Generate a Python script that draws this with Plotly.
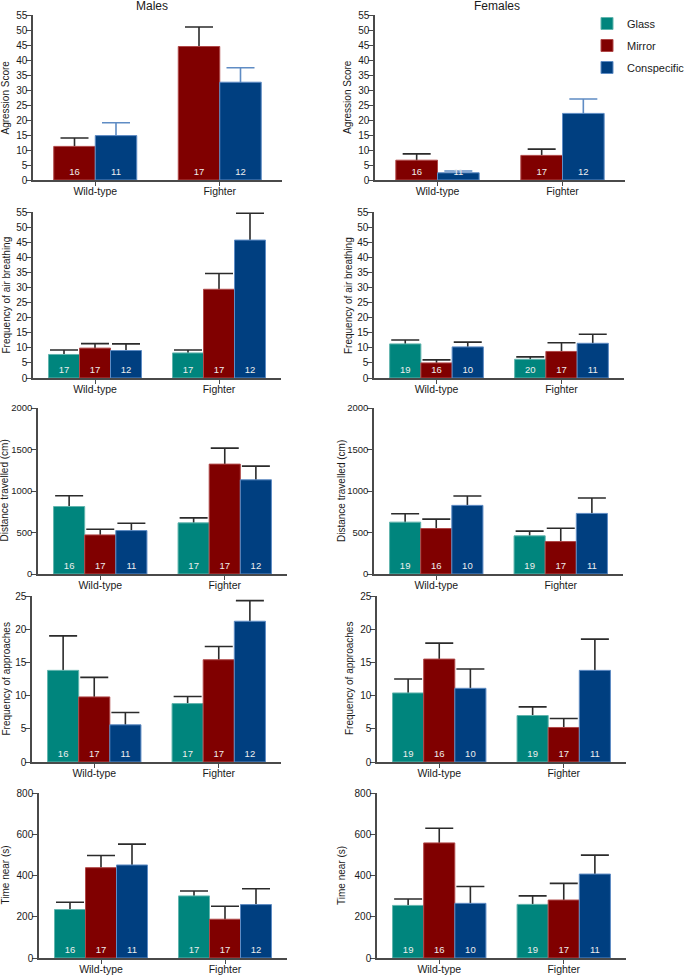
import plotly.graph_objects as go

W, H = 685, 975

groups = ["Wild-type", "Fighter"]
series_names = ["Glass", "Mirror", "Conspecific"]

# ---- Agression score (no Glass condition) ----
aggr_m_mirror, aggr_m_mirror_sem, aggr_m_mirror_n = [11.2, 44.5], [2.8, 6.5], [16, 17]
aggr_m_consp, aggr_m_consp_sem, aggr_m_consp_n = [14.8, 32.6], [4.3, 4.8], [11, 12]
aggr_f_mirror, aggr_f_mirror_sem, aggr_f_mirror_n = [6.6, 8.2], [2.1, 2.1], [16, 17]
aggr_f_consp, aggr_f_consp_sem, aggr_f_consp_n = [2.4, 22.2], [0.6, 4.8], [11, 12]

# ---- Frequency of air breathing ----
air_m_glass, air_m_glass_sem, air_m_glass_n = [7.8, 8.3], [1.5, 1.0], [17, 17]
air_m_mirror, air_m_mirror_sem, air_m_mirror_n = [9.9, 29.4], [1.5, 5.2], [17, 17]
air_m_consp, air_m_consp_sem, air_m_consp_n = [9.1, 45.7], [2.2, 8.9], [12, 12]
air_f_glass, air_f_glass_sem, air_f_glass_n = [11.3, 6.2], [1.3, 0.8], [19, 20]
air_f_mirror, air_f_mirror_sem, air_f_mirror_n = [5.0, 8.8], [1.0, 2.9], [16, 17]
air_f_consp, air_f_consp_sem, air_f_consp_n = [10.3, 11.5], [1.6, 3.0], [10, 11]

# ---- Distance travelled (cm) ----
dist_m_glass, dist_m_glass_sem, dist_m_glass_n = [813, 616], [129, 60], [16, 17]
dist_m_mirror, dist_m_mirror_sem, dist_m_mirror_n = [471, 1324], [68, 193], [17, 17]
dist_m_consp, dist_m_consp_sem, dist_m_consp_n = [523, 1135], [89, 165], [11, 12]
dist_f_glass, dist_f_glass_sem, dist_f_glass_n = [625, 460], [101, 56], [19, 19]
dist_f_mirror, dist_f_mirror_sem, dist_f_mirror_n = [548, 391], [113, 161], [16, 17]
dist_f_consp, dist_f_consp_sem, dist_f_consp_n = [827, 730], [113, 185], [10, 11]

# ---- Frequency of approaches ----
appr_m_glass, appr_m_glass_sem, appr_m_glass_n = [13.8, 8.8], [5.2, 1.06], [16, 17]
appr_m_mirror, appr_m_mirror_sem, appr_m_mirror_n = [9.8, 15.4], [2.95, 2.0], [17, 17]
appr_m_consp, appr_m_consp_sem, appr_m_consp_n = [5.6, 21.2], [1.85, 3.1], [11, 12]
appr_f_glass, appr_f_glass_sem, appr_f_glass_n = [10.4, 7.0], [2.1, 1.3], [19, 19]
appr_f_mirror, appr_f_mirror_sem, appr_f_mirror_n = [15.5, 5.2], [2.4, 1.35], [16, 17]
appr_f_consp, appr_f_consp_sem, appr_f_consp_n = [11.1, 13.8], [2.9, 4.7], [10, 11]

# ---- Time near (s) ----
time_m_glass, time_m_glass_sem, time_m_glass_n = [235, 301], [35, 24], [16, 17]
time_m_mirror, time_m_mirror_sem, time_m_mirror_n = [438, 188], [59, 63], [17, 17]
time_m_consp, time_m_consp_sem, time_m_consp_n = [451, 259], [101, 77], [11, 12]
time_f_glass, time_f_glass_sem, time_f_glass_n = [255, 260], [31, 41], [19, 19]
time_f_mirror, time_f_mirror_sem, time_f_mirror_n = [558, 281], [71, 81], [16, 17]
time_f_consp, time_f_consp_sem, time_f_consp_n = [265, 407], [82, 92], [10, 11]

y_titles = ["Agression Score", "Frequency of air breathing", "Distance travelled (cm)",
            "Frequency of approaches", "Time near (s)"]
y_max = [55, 55, 2000, 25, 800]
y_dtick = [5, 5, 500, 5, 200]

# panels: row-major, (left=Males, right=Females); each a dict series -> (mean, sem, n)
panels = [
    {"Mirror": (aggr_m_mirror, aggr_m_mirror_sem, aggr_m_mirror_n),
     "Conspecific": (aggr_m_consp, aggr_m_consp_sem, aggr_m_consp_n)},
    {"Mirror": (aggr_f_mirror, aggr_f_mirror_sem, aggr_f_mirror_n),
     "Conspecific": (aggr_f_consp, aggr_f_consp_sem, aggr_f_consp_n)},
    {"Glass": (air_m_glass, air_m_glass_sem, air_m_glass_n),
     "Mirror": (air_m_mirror, air_m_mirror_sem, air_m_mirror_n),
     "Conspecific": (air_m_consp, air_m_consp_sem, air_m_consp_n)},
    {"Glass": (air_f_glass, air_f_glass_sem, air_f_glass_n),
     "Mirror": (air_f_mirror, air_f_mirror_sem, air_f_mirror_n),
     "Conspecific": (air_f_consp, air_f_consp_sem, air_f_consp_n)},
    {"Glass": (dist_m_glass, dist_m_glass_sem, dist_m_glass_n),
     "Mirror": (dist_m_mirror, dist_m_mirror_sem, dist_m_mirror_n),
     "Conspecific": (dist_m_consp, dist_m_consp_sem, dist_m_consp_n)},
    {"Glass": (dist_f_glass, dist_f_glass_sem, dist_f_glass_n),
     "Mirror": (dist_f_mirror, dist_f_mirror_sem, dist_f_mirror_n),
     "Conspecific": (dist_f_consp, dist_f_consp_sem, dist_f_consp_n)},
    {"Glass": (appr_m_glass, appr_m_glass_sem, appr_m_glass_n),
     "Mirror": (appr_m_mirror, appr_m_mirror_sem, appr_m_mirror_n),
     "Conspecific": (appr_m_consp, appr_m_consp_sem, appr_m_consp_n)},
    {"Glass": (appr_f_glass, appr_f_glass_sem, appr_f_glass_n),
     "Mirror": (appr_f_mirror, appr_f_mirror_sem, appr_f_mirror_n),
     "Conspecific": (appr_f_consp, appr_f_consp_sem, appr_f_consp_n)},
    {"Glass": (time_m_glass, time_m_glass_sem, time_m_glass_n),
     "Mirror": (time_m_mirror, time_m_mirror_sem, time_m_mirror_n),
     "Conspecific": (time_m_consp, time_m_consp_sem, time_m_consp_n)},
    {"Glass": (time_f_glass, time_f_glass_sem, time_f_glass_n),
     "Mirror": (time_f_mirror, time_f_mirror_sem, time_f_mirror_n),
     "Conspecific": (time_f_consp, time_f_consp_sem, time_f_consp_n)},
]

# ---- styling ----
fill = {"Glass": "#00857D", "Mirror": "#800000", "Conspecific": "#003F80"}
edge = {"Glass": "#62b5ae", "Mirror": "#b04848", "Conspecific": "#5f8cc4"}
FONT = "Liberation Sans, Arial, Helvetica, sans-serif"
AX = "#4a4a4a"
TICKF = [10, 10, 9.5, 10, 10]

# plot-area boxes in pixels: (x0, x1) per panel, (ytop, ybottom) per row
x_px = [(33, 282), (375, 625), (33, 281), (374, 624), (38, 287),
        (374, 623), (32, 281), (377, 626), (39, 287), (377, 626)]
y_px = [(15, 180), (212, 378), (408, 574), (596, 762), (793, 958)]
# horizontal centre (px) of each panel's rotated y-axis title
ytitle_x = [5, 347.5, 5.5, 348, 3.5, 341, 5.5, 349, 5, 341.5]

fig = go.Figure()
legend_done = set()
annotations = [
    dict(text="Males", x=152 / W, y=1, xref="paper", yref="paper",
         xanchor="center", yanchor="top", yshift=3, showarrow=False,
         font=dict(size=12, family=FONT, color="#1a1a1a")),
    dict(text="Females", x=497 / W, y=1, xref="paper", yref="paper",
         xanchor="center", yanchor="top", yshift=3, showarrow=False,
         font=dict(size=12, family=FONT, color="#1a1a1a")),
]

for k, pan in enumerate(panels):
    row, col = divmod(k, 2)
    ax_id = "" if k == 0 else str(k + 1)
    names = [s for s in series_names if s in pan]
    nser = len(names)
    bw = 0.25 if nser == 3 else 1 / 3
    for j, s in enumerate(names):
        mean, sem, n = pan[s]
        off = -nser * bw / 2 + j * bw
        err_col = "#5f8cc4" if (row == 0 and s == "Conspecific") else "#2b2b2b"
        # error bars (drawn underneath the bars so only the upper half shows)
        fig.add_trace(go.Bar(
            x=groups, y=mean, offset=off, width=bw,
            marker=dict(color="rgba(0,0,0,0)", line=dict(width=0)),
            error_y=dict(type="data", array=sem, symmetric=True,
                         color=err_col, thickness=1.6, width=14),
            showlegend=False, hoverinfo="skip", legendgroup=s,
            xaxis="x" + ax_id, yaxis="y" + ax_id))
        show = s not in legend_done and k >= 2
        if show:
            legend_done.add(s)
        fig.add_trace(go.Bar(
            x=groups, y=mean, offset=off, width=bw, name=s,
            marker=dict(color=fill[s], line=dict(color=edge[s], width=1)),
            text=[str(v) for v in n], textposition="inside",
            insidetextanchor="start", textangle=0,
            textfont=dict(color="#eeeeee", size=9.5, family=FONT),
            legendgroup=s, showlegend=show,
            xaxis="x" + ax_id, yaxis="y" + ax_id))

    x0, x1 = x_px[k]
    yt, yb = y_px[row]
    fig.layout["xaxis" + ax_id] = dict(
        domain=[x0 / W, x1 / W], anchor="y" + ax_id, type="category",
        range=[-0.5, 1.5], showline=True, linecolor=AX, linewidth=1.5,
        ticks="outside", ticklen=4, tickwidth=1.3, tickcolor=AX,
        ticklabelstandoff=-3, automargin=False,
        showgrid=False, zeroline=False, fixedrange=True,
        tickfont=dict(size=10.5, color="#1a1a1a", family=FONT))
    fig.layout["yaxis" + ax_id] = dict(
        domain=[1 - yb / H, 1 - yt / H], anchor="x" + ax_id,
        range=[0, y_max[row]], dtick=y_dtick[row], tick0=0,
        showline=True, linecolor=AX, linewidth=1.5, automargin=False,
        ticks="outside", ticklen=5, tickwidth=1.3, tickcolor=AX,
        ticklabelstandoff=-3,
        showgrid=False, zeroline=False, fixedrange=True,
        tickfont=dict(size=TICKF[row], color="#1a1a1a", family=FONT))
    # y-axis title, placed beside the axis
    annotations.append(dict(
        text=y_titles[row], textangle=-90, showarrow=False,
        x=ytitle_x[k] / W, xref="paper", xanchor="center",
        y=1 - (yt + yb) / 2 / H, yref="paper", yanchor="middle",
        font=dict(size=10, color="#1a1a1a", family=FONT)))

fig.update_layout(
    width=W, height=H, autosize=False,
    margin=dict(l=0, r=0, t=0, b=0, autoexpand=False),
    paper_bgcolor="white", plot_bgcolor="white",
    barmode="overlay",
    font=dict(family=FONT, color="#1a1a1a"),
    uniformtext=dict(minsize=9.5, mode="show"),
    legend=dict(x=587 / W, xanchor="left", y=1 - 9 / H, yanchor="top",
                font=dict(size=11, family=FONT, color="#1a1a1a"),
                traceorder="grouped", tracegroupgap=3,
                bgcolor="rgba(0,0,0,0)"),
    annotations=annotations,
)

fig.write_html("out.html", config={"displayModeBar": False},
               post_script="document.body.style.margin='0px';")
